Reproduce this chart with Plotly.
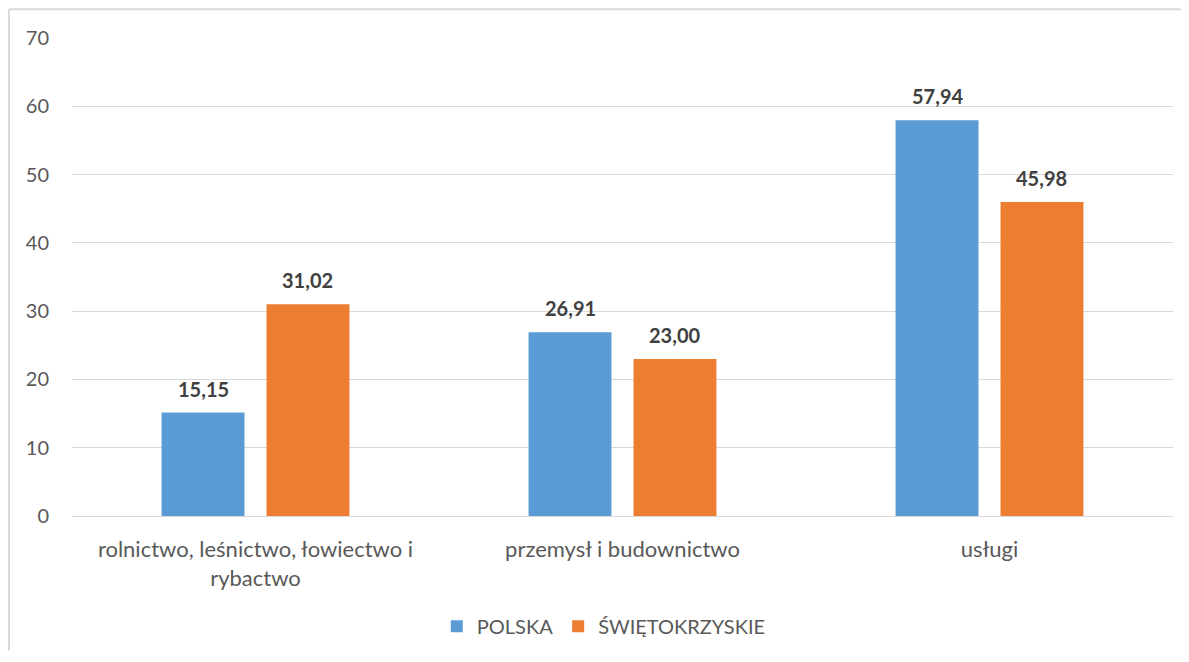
import plotly.graph_objects as go

categories = ["rolnictwo, leśnictwo, łowiectwo i<br>rybactwo", "przemysł i budownictwo", "usługi"]
polska = [15.15, 26.91, 57.94]
swietokrzyskie = [31.02, 23.00, 45.98]
series_names = ["POLSKA", "ŚWIĘTOKRZYSKIE"]
y_ticks = [0, 10, 20, 30, 40, 50, 60, 70]

# page has an 8px body margin, so the figure is a bit smaller than the window
W, H = 1173, 646
L, R, T, B = 64, 8, 30, 135
FONT = "Lato"
TXT = "#595959"
GRID = "#D9D9D9"


def fmt(v):
    return f"{v:.2f}".replace(".", ",")


fig = go.Figure()

fig.add_trace(go.Bar(
    name=series_names[0], x=categories, y=polska,
    marker=dict(color="#5B9BD5", line=dict(width=0)),
))
fig.add_trace(go.Bar(
    name=series_names[1], x=categories, y=swietokrzyskie,
    marker=dict(color="#ED7D31", line=dict(width=0)),
))

# data labels above bars
for vals, shift in ((polska, -52), (swietokrzyskie, 52)):
    for c, v in zip(categories, vals):
        fig.add_annotation(
            x=c, y=v, text=f"<b>{fmt(v)}</b>", showarrow=False,
            xshift=shift, yshift=10, yanchor="bottom",
            font=dict(family=FONT, size=20, color="#404040"),
        )

# chart frame (top and left edges visible)
pw, ph = W - L - R, H - T - B


def px_x(p):
    return (p - L) / pw


def px_y(p):
    return (H - B - p) / ph


frame = dict(type="line", xref="paper", yref="paper",
             line=dict(color=GRID, width=2), layer="below")
fig.add_shape(x0=px_x(1), x1=px_x(W), y0=px_y(1), y1=px_y(1), **frame)
fig.add_shape(x0=px_x(1), x1=px_x(1), y0=px_y(1), y1=px_y(H), **frame)

fig.update_layout(
    width=W, height=H,
    margin=dict(l=L, r=R, t=T, b=B),
    paper_bgcolor="white", plot_bgcolor="white",
    barmode="group", bargap=0.428, bargroupgap=0.21,
    font=dict(family=FONT, size=20, color=TXT),
    legend=dict(
        orientation="h", x=0.483, xanchor="center", y=px_y(622), yanchor="middle",
        font=dict(family=FONT, size=20, color=TXT),
        itemwidth=30, traceorder="normal",
    ),
)

fig.update_xaxes(
    showline=False, showgrid=False, ticks="",
    tickfont=dict(family=FONT, size=22, color=TXT),
    ticklabelstandoff=18,
)
fig.update_yaxes(
    range=[0, 70], tickvals=y_ticks, showgrid=True, gridcolor=GRID,
    gridwidth=1.3, zeroline=True, zerolinecolor=GRID, zerolinewidth=1.3,
    showline=False, ticks="",
    tickfont=dict(family=FONT, size=20, color=TXT),
    ticklabelstandoff=22,
)

fig.write_html("out.html")
